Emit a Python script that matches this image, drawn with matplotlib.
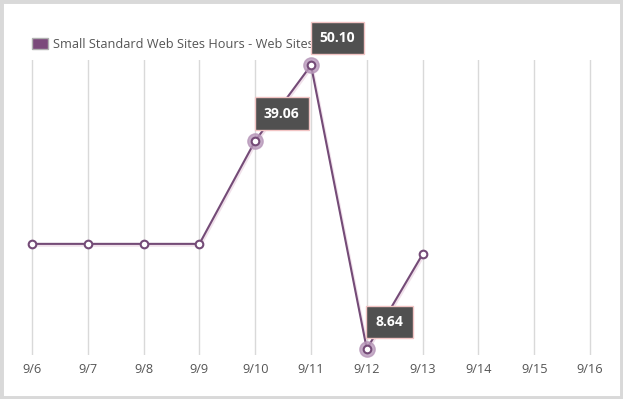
import matplotlib.pyplot as plt
from matplotlib.patches import Rectangle
from matplotlib.transforms import IdentityTransform, ScaledTranslation

plt.rcParams['font.family'] = ['Open Sans', 'DejaVu Sans']

# 数据
dates = ['9/6', '9/7', '9/8', '9/9', '9/10', '9/11', '9/12', '9/13', '9/14', '9/15', '9/16']
hours = [24.0, 24.0, 24.0, 24.0, 39.06, 50.10, 8.64, 22.5]
labelled = [4, 5, 6]  # 带标签的点
series_name = 'Small Standard Web Sites Hours - Web Sites'

line_color = '#744b77'
W, H = 623, 399

fig = plt.figure(figsize=(W / 100, H / 100), dpi=100)
fig.patch.set_facecolor('white')
# 外框
fig.patches.append(Rectangle((0, 0), 1, 1, transform=fig.transFigure, fill=False,
                             edgecolor='#d9d9d9', linewidth=5))

# 坐标区: 网格线从 y=60 到 y=355 像素
left_px, right_px = 20, 602
ax = fig.add_axes([left_px / W, (H - 355) / H, (right_px - left_px) / W, 295 / H])
step = (590 - 32) / 10
ax.set_xlim(-(32 - left_px) / step, 10 + (right_px - 590) / step)
ax.set_ylim(7.76, 50.87)

x = list(range(len(dates)))
ax.set_xticks(x)
ax.set_xticklabels(dates, color='#555555', fontsize=9.2)
ax.tick_params(axis='x', length=0, pad=6)
ax.set_yticks([])
for s in ax.spines.values():
    s.set_visible(False)
for xi in x:
    ax.axvline(xi, color='#d9d9d9', linewidth=1, zorder=0)

xs = x[:len(hours)]
# 淡色阴影
shadow = ax.transData + ScaledTranslation(1 / 100, -1.5 / 100, fig.dpi_scale_trans)
ax.plot(xs, hours, color='#f0e0ea', linewidth=2, zorder=2, transform=shadow)
ax.plot(xs, hours, color=line_color, linewidth=1.5, zorder=3)
# 高亮光圈
ax.plot([xs[i] for i in labelled], [hours[i] for i in labelled], linestyle='none',
        marker='o', markersize=11, color='#b797b9', alpha=0.8, zorder=4, clip_on=False)
ax.plot(xs, hours, linestyle='none', marker='o', markersize=5.5, markerfacecolor='white',
        markeredgecolor=line_color, markeredgewidth=1.5, zorder=5, clip_on=False)

fs = 10
pad = 0.66
pad_px = pad * fs * 100 / 72
for i in labelled:
    ax.annotate(f'{hours[i]:.2f}', (xs[i], hours[i]), xytext=(pad_px - 0.5, 11 + pad_px),
                textcoords='offset pixels', ha='left', va='bottom', color='white',
                fontsize=fs, fontweight='bold',
                bbox=dict(boxstyle=f'square,pad={pad}', facecolor='#505050', edgecolor='#f2c4c4',
                          linewidth=1), annotation_clip=False, zorder=10)

# 图例
ax.add_patch(Rectangle((32, H - 49), 16, 11, transform=IdentityTransform(), facecolor='#7b4a7b',
                       edgecolor='#b0b0b0', linewidth=1, clip_on=False, zorder=2))
ax.text(53, H - 44, series_name, transform=IdentityTransform(), ha='left', va='center',
        fontsize=9.2, color='#555555', clip_on=False, zorder=2)

fig.savefig('out.png', dpi=100)
